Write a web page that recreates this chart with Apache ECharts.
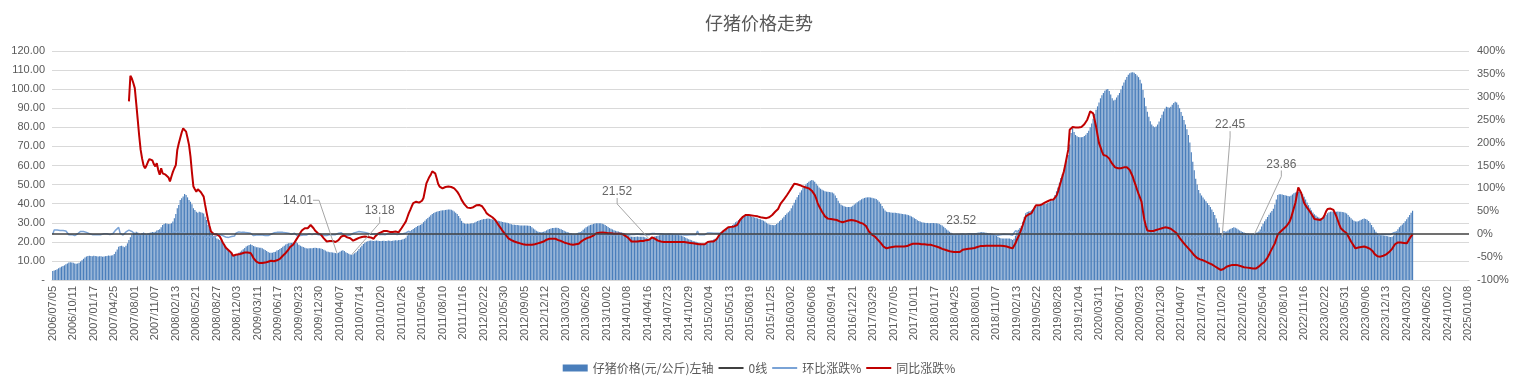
<!DOCTYPE html>
<html><head><meta charset="utf-8">
<script src="https://cdn.jsdelivr.net/npm/echarts/dist/echarts.min.js"></script>
<style>html,body{margin:0;padding:0;background:#fff}#c{width:1518px;height:390px}</style>
</head><body><div id="c"></div>
<script>
// ---------- DATA ----------
const firstWeek = '2006/07/05';
const lastWeek = '2025/01/08';

// 仔猪价格 (元/公斤), weekly from 2006/07/05
const p2006 = [4.7,5.0,5.2,5.6,6.1,6.5,7.0,7.3,7.7,8.2,8.7,9.2,9.3,9.2,9.1,8.7,8.5,8.6,9.0,9.7,10.4,11.1,11.8,12.3,12.6,12.7];
const p2007 = [12.6,12.5,12.7,12.6,12.4,12.3,12.5,12.4,12.2,12.3,12.5,12.6,12.8,12.7,12.9,13.0,13.6,14.8,16.0,17.4,17.8,17.9,17.6,17.2,18.0,19.2,21.0,22.4,23.8,24.5,24.8,25.3,24.9,24.4,24.1,24.6,24.9,24.3,24.0,24.4,24.7,24.9,25.1,25.0,25.3,25.9,26.2,26.6,27.6,28.8,29.4,29.7];
const p2008 = [29.5,29.3,29.4,29.7,30.6,32.3,34.6,37.6,39.3,41.9,42.8,43.7,45.1,44.5,43.3,41.9,41.0,39.7,37.6,36.7,35.8,35.3,35.8,35.5,35.3,34.9,33.2,31.4,28.8,27.1,25.7,24.5,23.1,22.4,21.8,21.3,21.0,20.4,19.7,18.9,17.8,16.6,15.4,14.3,13.6,13.1,12.6,12.9,13.6,14.3,14.8,15.4];
const p2009 = [16.1,16.8,17.5,18.0,18.3,18.7,18.3,17.8,17.5,17.1,17.1,16.9,16.9,16.6,16.1,15.7,15.2,14.7,14.3,14.3,14.3,14.7,14.8,15.4,15.7,16.3,16.8,17.4,18.0,18.6,19.0,19.3,19.4,19.4,19.5,19.8,20.0,19.3,18.5,18.0,17.6,17.3,16.9,16.6,16.5,16.6,16.7,16.6,16.8,16.9,16.8,16.7];
const p2010 = [16.6,16.5,16.2,15.8,15.5,15.0,14.8,14.6,14.5,14.4,14.3,14.1,14.01,14.3,14.8,15.3,15.6,15.2,14.6,14.1,13.7,13.4,13.18,13.5,14.0,14.6,15.3,16.2,17.1,18.0,18.8,19.5,20.0,20.3,20.6,20.7,20.6,20.5,20.6,20.7,20.6,20.4,20.4,20.5,20.6,20.4,20.5,20.7,20.6,20.5,20.6,20.7];
const p2011 = [20.8,20.7,20.9,21.0,21.1,21.3,21.6,22.2,23.3,24.8,25.6,26.2,26.7,27.2,27.8,28.3,28.6,28.9,29.4,30.3,31.0,31.8,32.5,33.2,33.9,34.6,35.1,35.5,35.8,36.0,36.2,36.4,36.5,36.6,36.7,36.8,36.9,37.0,36.8,36.4,35.9,35.3,34.6,33.6,32.3,31.0,30.0,29.6,29.4,29.5,29.4,29.6];
const p2012 = [29.7,29.8,30.1,30.5,30.9,31.2,31.5,31.7,31.9,32.0,32.1,32.2,32.1,31.9,31.7,31.5,31.3,31.2,31.0,30.8,30.6,30.4,30.3,30.1,30.0,29.8,29.5,29.2,29.0,28.9,28.8,28.8,28.7,28.6,28.6,28.5,28.5,28.6,28.5,28.4,28.3,27.6,27.0,26.4,25.8,25.4,25.2,25.0,25.1,25.3,25.6,26.0];
const p2013 = [26.4,26.7,27.0,27.2,27.3,27.4,27.4,27.3,26.9,26.6,26.2,25.8,25.4,25.1,24.9,24.6,24.4,24.2,24.0,23.9,24.2,24.7,25.1,25.6,26.3,27.0,27.6,28.1,28.6,28.9,29.1,29.4,29.6,29.7,29.8,29.8,29.7,29.5,29.2,28.8,28.3,27.8,27.2,26.8,26.5,26.1,25.8,25.6,25.4,25.2,25.0,24.8];
const p2014 = [24.6,24.2,23.8,23.3,22.8,22.7,22.7,22.6,22.7,22.8,22.7,22.6,22.7,22.6,22.4,22.1,21.8,21.52,21.9,22.3,22.6,22.9,23.0,23.2,23.5,23.7,23.9,24.0,24.1,24.1,24.0,24.1,24.0,24.0,23.9,23.8,23.7,23.6,23.5,23.3,22.9,22.5,22.1,21.7,21.4,21.1,20.8,20.5,20.2,20.0,19.7,19.5];
const p2015 = [19.2,19.0,18.9,18.7,18.8,19.3,19.8,20.3,20.8,21.2,21.6,22.0,22.5,23.0,23.6,24.3,25.0,25.8,26.6,27.2,27.7,28.2,28.8,29.5,30.2,30.8,31.4,31.9,32.4,32.9,33.3,33.6,33.8,33.7,33.5,33.2,33.0,32.8,32.6,32.3,32.0,31.8,31.5,31.1,30.6,30.0,29.5,29.1,28.9,28.8,28.7,28.8];
const p2016 = [29.3,30.0,30.8,31.5,32.3,33.2,34.0,34.8,35.5,36.3,37.6,39.0,40.5,42.0,43.4,44.6,45.8,47.0,48.2,49.2,50.1,50.8,51.5,52.0,52.4,52.2,51.5,50.5,49.5,48.5,47.8,47.3,46.9,46.5,46.3,46.2,46.1,46.0,45.8,45.3,44.3,43.0,41.5,40.2,39.4,39.0,38.6,38.4,38.3,38.2,38.2,38.4];
const p2017 = [38.9,39.5,40.1,40.7,41.3,41.8,42.3,42.7,43.0,43.2,43.3,43.3,43.2,43.1,42.9,42.7,42.4,41.8,41.0,40.0,38.8,37.5,36.4,35.8,35.6,35.5,35.4,35.3,35.3,35.2,35.1,35.0,34.9,34.7,34.6,34.5,34.4,34.2,34.0,33.7,33.3,32.9,32.4,31.9,31.3,30.9,30.6,30.3,30.1,30.0,29.9,29.9];
const p2018 = [29.8,29.8,29.9,29.9,29.8,29.7,29.6,29.4,29.0,28.5,27.9,27.2,26.5,25.9,25.3,24.8,24.3,24.0,23.8,23.7,23.6,23.55,23.52,23.6,23.6,23.55,23.6,23.8,24.0,24.2,24.4,24.5,24.6,24.8,24.9,25.0,25.1,25.0,24.9,24.8,24.6,24.5,24.4,24.2,24.0,23.6,23.1,22.6,22.2,21.9,21.8,21.8];
const p2019 = [21.8,21.7,21.8,21.7,21.5,21.0,21.6,23.2,25.0,26.3,27.2,28.3,30.5,33.0,35.0,35.6,35.9,36.2,36.5,37.2,37.8,38.3,38.7,39.1,39.3,39.5,39.7,39.8,40.0,40.3,40.8,41.3,41.8,42.3,44.5,46.5,48.5,51.0,53.5,55.5,57.5,60.0,62.5,65.5,71.0,77.0,79.5,77.5,76.0,75.3,74.9,74.8];
const p2020 = [74.8,75.0,75.4,76.1,77.0,78.2,80.0,82.0,84.5,87.0,89.2,91.0,93.0,95.2,96.8,98.0,99.2,99.8,100.1,99.0,97.2,95.3,94.0,94.5,95.6,96.8,98.0,99.8,101.8,103.5,105.0,106.4,107.5,108.3,108.7,108.9,108.6,108.0,107.2,106.3,105.0,103.0,99.6,95.5,91.0,88.2,85.5,83.2,81.5,80.6,80.1,80.4];
const p2021 = [81.5,83.0,84.8,86.6,88.3,89.8,90.8,90.5,90.3,90.8,91.8,92.7,93.4,93.0,91.8,90.0,88.0,86.0,83.8,81.5,79.0,76.0,72.0,67.0,62.0,57.5,53.0,50.0,47.2,45.5,44.3,43.2,42.2,41.3,40.3,39.3,38.2,37.0,35.6,34.0,32.2,30.0,27.5,24.5,22.45,23.8,24.8,25.4,25.9,26.4,26.9,27.3];
const p2022 = [27.6,27.4,27.0,26.5,26.0,25.6,25.2,24.9,24.6,24.4,24.3,24.1,24.0,23.9,23.86,24.3,24.8,25.4,26.5,28.0,29.5,30.8,31.8,33.0,34.2,35.3,36.2,37.4,39.5,42.2,44.5,45.0,45.0,44.8,44.6,44.4,44.2,44.0,43.8,44.2,44.8,45.4,45.9,46.2,46.3,46.2,45.9,45.0,43.6,42.2,40.6,39.2];
const p2023 = [37.8,36.5,35.4,34.5,33.8,33.2,32.7,32.4,32.3,32.6,33.3,34.2,35.0,35.5,35.8,35.9,35.9,35.8,35.8,35.9,35.8,35.7,35.6,35.5,35.2,34.8,34.0,33.2,32.4,31.6,31.0,30.7,30.6,30.8,31.2,31.6,32.0,32.2,32.0,31.6,30.9,30.0,28.8,27.6,26.4,25.3,24.4,23.8,23.5,23.4,23.3,23.2];
const p2024 = [23.1,22.9,22.7,22.5,22.6,23.3,24.4,25.5,26.6,27.6,28.4,29.1,29.9,30.8,31.8,32.9,34.0,35.2,36.3];

// 环比涨跌 (%), weekly from 2006/07/05
const w2006 = [0,9,8,9,8,8,7,8,7,7,6,-1,0,-1,-2,-3,-2,1,3,6,7,6,5,4,2,1];
const w2007 = [0,-1,2,-1,-2,-1,2,-1,-2,1,2,1,2,-1,2,1,5,9,8,15,2,1,-2,-2,5,7,9,7,6,3,1,2,-2,-2,-1,2,1,-2,-1,2,1,1,1,0,1,2,1,2,4,4,2,1];
const w2008 = [-1,-1,0,1,3,6,7,9,5,7,2,2,3,-1,-3,-3,-2,-3,-5,-2,-2,-1,1,-1,-1,-1,-5,-5,-8,-6,-5,-5,-6,-3,-3,-2,-1,-3,-3,-4,-6,-7,-7,-7,-5,-4,-4,2,5,5,4,4];
const w2009 = [5,4,4,3,2,2,-2,-3,-2,-2,0,-1,0,-2,-3,-3,-3,-3,-3,0,0,3,1,4,2,4,3,4,3,3,2,2,1,0,1,2,1,-4,-4,-3,-2,-2,-2,-2,-1,1,1,-1,1,1,-1,-1];
const w2010 = [-1,-1,-2,-3,-2,-3,-1,-1,-1,-1,-1,-1,-1,2,4,3,2,-3,-4,-3,-3,-2,-2,2,4,4,5,6,6,5,4,4,3,2,2,0,-1,0,1,1,-1,-1,0,0,1,-1,1,1,-1,0,0,1];
const w2011 = [0.5,-0.5,1,0.5,0.5,1,1.4,2.8,5,6.4,3.2,2.3,1.9,1.9,2.2,1.8,1.1,1,1.7,3.1,2.3,2.6,2.2,2.2,2.1,2.1,1.4,1.1,0.8,0.6,0.6,0.5,0.3,0.3,0.3,0.3,0.3,0.3,-0.5,-1.1,-1.4,-1.7,-2,-2.9,-3.9,-4,-3.2,-1.3,-0.7,0.3,-0.3,0.7];
const w2012 = [0.3,0.3,1,1.3,1.3,1,1,0.6,0.6,0.3,0.3,0.3,-0.3,-0.6,-0.6,-0.6,-0.6,-0.3,-0.6,-0.6,-0.7,-0.7,-0.3,-0.7,-0.3,-0.7,-1,-1,-0.7,-0.3,-0.3,0,-0.3,-0.3,0,-0.3,0,0.3,-0.3,-0.3,-0.3,-2.5,-2.2,-2.2,-2.3,-1.6,-0.8,-0.8,0.4,0.8,1.2,1.6];
const w2013 = [1.5,1.1,1.1,0.7,0.4,0.4,0,-0.4,-1.5,-1.1,-1.5,-1.5,-1.6,-1.2,-0.8,-1.2,-0.8,-0.8,-0.8,-0.4,1.3,2.1,1.6,2,2.7,2.7,2.2,1.8,1.8,1,0.7,1,0.7,0.3,0.3,0,-0.3,-0.7,-1,-1.4,-1.7,-1.8,-2.2,-1.5,-1.1,-1.5,-1.1,-0.8,-0.8,-0.8,-0.8,-0.8];
const w2014 = [-0.8,-1.6,-1.7,-2.1,-2.1,-0.4,0,-0.4,0.4,0.4,-0.4,-0.4,0.4,-0.4,-0.9,-1.3,-1.4,-1.3,1.8,1.8,1.3,1.3,0.4,0.9,1.3,0.9,0.8,0.4,0.4,0,-0.4,0.4,-0.4,0,-0.4,-0.4,-0.4,-0.4,-0.4,-0.9,-1.7,-1.7,-1.8,-1.8,-1.4,-1.4,-1.4,-1.4,-1.5,-1,7,-1];
const w2015 = [-1.5,-1,-0.5,-1,0.5,2.7,2.6,2.5,2.5,1.9,1.9,1.9,2.3,2.2,2.6,3,2.9,3.2,3.1,2.3,1.8,1.8,2.1,2.4,2.4,2,1.9,1.6,1.6,1.5,1.2,0.9,0.6,-0.3,-0.6,-0.9,-0.6,-0.6,-0.6,-0.9,-0.9,-0.6,-0.9,-1.3,-1.6,-2,-1.7,-1.4,-0.7,-0.3,-0.3,0.3];
const w2016 = [1.7,2.4,2.7,2.3,2.5,2.8,2.4,2.4,2,2.3,3.6,3.7,3.8,3.7,3.3,2.8,2.7,2.6,2.6,2.1,1.8,1.4,1.4,1,0.8,-0.4,-1.3,-1.9,-2,-2,-1.4,-1,-0.8,-0.9,-0.4,-0.2,-0.2,-0.2,-0.4,-1.1,-2.2,-2.9,-3.5,-3.1,-2,-1,-1,-0.5,-0.3,-0.3,0,0.5];
const w2017 = [1.3,1.5,1.5,1.5,1.5,1.2,1.2,0.9,0.7,0.5,0.2,0,-0.2,-0.2,-0.5,-0.5,-0.7,-1.4,-1.9,-2.4,-3,-3.4,-2.9,-1.6,-0.6,-0.3,-0.3,-0.3,0,-0.3,-0.3,-0.3,-0.3,-0.6,-0.3,-0.3,-0.3,-0.6,-0.6,-0.9,-1.2,-1.2,-1.5,-1.5,-1.9,-1.3,-1,-1,-0.7,-0.3,-0.3,0];
const w2018 = [-0.3,0,0.3,0,-0.3,-0.3,-0.3,-0.7,-1.4,-1.7,-2.1,-2.5,-2.6,-2.3,-2.3,-2,-2,-1.2,-0.8,-0.4,-0.4,-0.2,-0.1,0.3,0,-0.4,0.4,0.8,0.8,0.8,0.8,0.4,0.4,0.8,0.4,0.4,0.4,-0.4,-0.4,-0.4,-0.8,-0.4,-0.4,-0.8,-0.8,-1.7,-2.1,-2.2,-1.8,-1.4,-0.5,0];
const w2019 = [0,-0.5,0.5,-0.5,-0.9,-2.3,2.9,7.4,7.8,5.2,3.4,4,7.8,8.2,6.1,1.7,0.8,0.8,0.8,1.9,1.6,1.3,1,1,0.5,0.5,0.5,0.3,0.5,0.8,1.2,1.2,1.2,1.2,5.2,4.5,4.3,5.2,4.9,3.7,3.6,4.3,4.2,4.8,8.4,8.5,3.2,-2.5,-1.9,-0.9,-0.5,-0.1];
const w2020 = [0,0.3,0.5,0.9,1.2,1.6,2.3,2.5,3,3,2.5,2,2.2,2.4,1.7,1.2,1.2,0.6,0.3,-1.1,-1.8,-2,-1.4,0.5,1.2,1.3,1.2,1.8,2,1.7,1.4,1.3,1,0.7,0.4,0.2,-0.3,-0.6,-0.7,-0.8,-1.2,-1.9,-3.3,-4.1,-4.7,-3.1,-3.1,-2.7,-2,-1.1,-0.6,0.4];
const w2021 = [1.4,1.8,2.2,2.1,2,1.7,1.1,-0.3,-0.2,0.6,1.1,1,0.8,-0.4,-1.3,-2,-2.2,-2.3,-2.6,-2.7,-3.1,-3.8,-5.3,-6.9,-7.5,-7.3,-7.8,-5.7,-5.6,-3.6,-2.6,-2.5,-2.3,-2.1,-2.4,-2.5,-2.8,-3.1,-3.8,-4.5,-5.3,-6.8,-8.3,-10.9,-8.4,6,4.2,2.4,2,1.9,1.9,1.5];
const w2022 = [1.1,-0.7,-1.5,-1.9,-1.9,-1.5,-1.6,-1.2,-1.2,-0.8,-0.4,-0.8,-0.4,-0.4,-0.2,1.8,2.1,2.4,4.3,5.7,5.4,4.4,3.2,3.8,3.6,3.2,2.5,3.3,5.6,6.8,5.5,1.1,0,-0.4,-0.4,-0.4,-0.5,-0.5,-0.5,0.9,1.4,1.3,1.1,0.7,0.2,-0.2,-0.6,-2,-3.1,-3.2,-3.8,-3.4];
const w2023 = [-3.6,-3.4,-3,-2.5,-2,-1.8,-1.5,-0.9,-0.3,0.9,2.1,2.7,2.3,1.4,0.8,0.3,0,-0.3,0,0.3,-0.3,-0.3,-0.3,-0.3,-0.8,-1.1,-2.3,-2.4,-2.4,-2.5,-1.9,-1,-0.3,0.7,1.3,1.3,1.3,0.6,-0.6,-1.3,-2.2,-2.9,-4,-4.2,-4.3,-4.2,-3.6,-2.5,-1.3,-0.4,-0.4,-0.4];
const w2024 = [-0.4,-0.9,-0.9,-0.9,0.4,3.1,4.7,4.5,4.3,3.8,2.9,2.5,2.7,3,3.2,3.5,3.3,3.5,3.1];

// 同比涨跌 (%), weekly from 2007/07/04 (first year has no YoY)
const yoyStartIndex = 52;
const y2007 = [290,346,340,330,319,285,250,215,184,165,150,144,150,158,164,163,161,153,148,155,140,130,144,133,131,130];
const y2008 = [133,124,115,126,136,144,151,184,198,210,222,231,235,224,210,195,170,135,104,98,93,98,95,92,91,82,64,47,31,18,6,2,0,0,0,-2,-5,-11,-18,-23,-29,-33,-35,-36,-41,-47,-46,-45,-45,-44,-44,-42];
const y2009 = [-41,-40,-39,-40,-41,-41,-46,-52,-56,-60,-62,-63,-63,-63,-62,-62,-62,-60,-57,-58,-60,-59,-58,-57,-55,-54,-51,-47,-44,-41,-38,-33,-28,-25,-23,-18,-13,-9,-3,3,8,11,13,9,13,17,20,17,13,8,4,2];
const y2010 = [0,-1,-5,-9,-13,-16,-16,-15,-15,-15,-16,-17,-17,-13,-9,-5,-1,-3,-5,-7,-8,-9,-12,-14,-12,-11,-9,-8,-7,-6,-5,-5,-6,-6,-7,-7,-9,-10,-5,-1,1,2,4,6,7,8,7,6,5,4,5,6];
const y2011 = [6,5,4,8,13,18,23,28,37,46,53,61,68,70,71,70,69,68,73,79,95,111,118,125,130,137,135,133,122,110,104,101,100,102,103,104,104,103,103,103,100,97,93,88,82,75,70,65,61,58,57,57];
const y2012 = [57,59,61,63,64,64,64,61,57,52,46,43,41,39,37,35,31,26,21,17,12,7,3,-1,-5,-9,-12,-13,-15,-16,-17,-18,-19,-20,-21,-22,-22,-23,-23,-23,-23,-23,-22,-22,-21,-20,-19,-18,-17,-16,-14,-12];
const y2013 = [-11,-10,-10,-10,-10,-10,-11,-13,-14,-15,-17,-18,-19,-20,-21,-22,-23,-23,-23,-22,-21,-21,-18,-15,-13,-11,-10,-8,-7,-6,-5,-3,-1,2,3,3,4,4,4,3,3,2,2,2,2,1,1,1,1,1,0,0];
const y2014 = [-1,-4,-7,-9,-13,-16,-16,-16,-16,-16,-15,-15,-15,-15,-14,-13,-13,-12,-9,-7,-7,-10,-12,-14,-15,-16,-17,-17,-17,-17,-17,-17,-17,-17,-17,-17,-17,-17,-17,-17,-17,-17,-17,-18,-18,-19,-19,-20,-21,-21,-22,-22];
const y2015 = [-22,-22,-22,-22,-20,-17,-17,-16,-16,-16,-13,-11,-6,-1,3,5,6,10,13,15,17,16,15,17,18,20,25,31,35,38,41,42,42,42,42,41,41,40,40,39,38,37,36,36,36,35,36,37,39,42,46,49];
const y2016 = [49,55,62,68,72,76,79,85,90,95,100,105,110,110,109,108,107,106,104,103,102,101,100,99,95,91,86,78,68,61,55,49,44,39,36,34,33,33,32,32,31,31,30,28,27,26,27,28,29,30,30,31];
const y2017 = [30,30,29,28,27,25,24,23,22,18,12,6,2,-1,-3,-5,-8,-12,-15,-19,-23,-27,-30,-31,-30,-29,-28,-28,-27,-27,-27,-27,-27,-27,-27,-27,-27,-26,-25,-23,-22,-21,-21,-21,-21,-21,-22,-22,-22,-22,-22,-23];
const y2018 = [-23,-23,-24,-25,-26,-27,-28,-29,-30,-32,-33,-34,-35,-36,-37,-38,-39,-39,-39,-39,-39,-39,-36,-34,-33,-33,-33,-32,-32,-31,-31,-30,-29,-28,-27,-26,-26,-26,-25,-25,-25,-25,-25,-25,-25,-25,-25,-25,-25,-25,-25,-26];
const y2019 = [-26,-27,-28,-29,-30,-31,-27,-20,-12,-5,2,11,20,30,39,41,43,45,46,52,58,63,63,63,63,65,67,69,71,72,74,75,75,76,76,84,93,104,115,126,137,152,168,184,228,232,234,234,233,233,233,234];
const y2020 = [234,235,240,245,250,259,268,267,264,250,235,217,199,190,181,173,172,171,170,165,159,154,150,146,145,144,143,144,145,146,146,146,146,140,133,126,116,107,97,88,80,71,50,31,18,8,7,7,6,7,8,9];
const y2021 = [10,11,12,13,14,15,15,14,13,12,10,7,4,2,-3,-8,-12,-16,-20,-24,-27,-31,-35,-38,-42,-46,-49,-52,-54,-55,-56,-57,-59,-60,-62,-63,-64,-66,-68,-70,-72,-74,-76,-78,-77,-76,-73,-71,-70,-69,-68,-67];
const y2022 = [-67,-67,-67,-68,-69,-70,-71,-72,-73,-73,-74,-74,-74,-75,-75,-75,-73,-71,-68,-65,-62,-60,-56,-51,-45,-38,-32,-26,-20,-10,-1,3,6,9,12,15,18,20,27,35,46,57,68,85,102,96,90,79,68,63,58,54];
const y2023 = [49,44,39,33,32,32,31,31,31,36,42,50,55,58,56,55,53,46,39,30,21,13,10,7,4,2,-4,-10,-16,-21,-26,-31,-30,-29,-28,-28,-27,-27,-27,-29,-30,-32,-34,-38,-43,-47,-48,-49,-49,-48,-47,-46];
const y2024 = [-44,-42,-39,-36,-32,-27,-22,-18,-18,-18,-18,-19,-19,-20,-20,-15,-9,-5,0];

// annotated price points
const annoIndex = [194, 204, 407, 620, 798, 820];
const annoValue = [14.01, 13.18, 21.52, 23.52, 22.45, 23.86];

// axis ticks
const leftTicks = {min: 0, max: 120, step: 10};
const rightTicks = {min: -100, max: 400, step: 50};

// ---------- BUILD ----------
const categories = [];
(function () {
  const a = firstWeek.split('/').map(Number), b = lastWeek.split('/').map(Number);
  let t = Date.UTC(a[0], a[1] - 1, a[2]);
  const end = Date.UTC(b[0], b[1] - 1, b[2]);
  const pad = n => String(n).padStart(2, '0');
  while (t <= end) {
    const d = new Date(t);
    categories.push(d.getUTCFullYear() + '/' + pad(d.getUTCMonth() + 1) + '/' + pad(d.getUTCDate()));
    t += 7 * 86400000;
  }
})();

const price = [].concat(p2006,p2007,p2008,p2009,p2010,p2011,p2012,p2013,p2014,p2015,p2016,p2017,p2018,p2019,p2020,p2021,p2022,p2023,p2024);
const wow = [].concat(w2006,w2007,w2008,w2009,w2010,w2011,w2012,w2013,w2014,w2015,w2016,w2017,w2018,w2019,w2020,w2021,w2022,w2023,w2024);
const yoyVals = [].concat(y2007,y2008,y2009,y2010,y2011,y2012,y2013,y2014,y2015,y2016,y2017,y2018,y2019,y2020,y2021,y2022,y2023,y2024);
const yoy = yoyVals.map((v, k) => [yoyStartIndex + k, v]);

// label offsets (layout only)
const annoOffset = [[-39, -53], [28, -44], [-32, -47], [0, -14], [8, -112], [27, -70]];

const FONT = '"Liberation Sans", "Noto Sans CJK SC", sans-serif';
const CJK = '"Noto Sans CJK SC", "Liberation Sans", sans-serif';
const grey = '#595959';
const hideSym = {opacity: 0};

const chart = echarts.init(document.getElementById('c'), null, {renderer: 'canvas'});
chart.setOption({
  animation: false,
  backgroundColor: '#fff',
  title: {text: '仔猪价格走势', left: 'center', top: 9,
    textStyle: {fontSize: 18, fontWeight: 'normal', color: grey, fontFamily: CJK}},
  legend: {
    bottom: 11, left: 'center', itemGap: 4, itemWidth: 25, itemHeight: 7,
    textStyle: {fontSize: 12, color: grey, fontFamily: CJK},
    data: [
      {name: '仔猪价格(元/公斤)左轴', icon: 'rect'},
      {name: '0线', itemStyle: hideSym},
      {name: '环比涨跌%', itemStyle: hideSym},
      {name: '同比涨跌%', itemStyle: hideSym}
    ]
  },
  grid: {left: 52, right: 49, top: 51, bottom: 110},
  xAxis: {
    type: 'category', data: categories, boundaryGap: true,
    axisLine: {lineStyle: {color: '#d9d9d9'}},
    axisTick: {show: false},
    axisLabel: {interval: 13, rotate: 90, fontSize: 11, color: grey, fontFamily: FONT, margin: 6}
  },
  yAxis: [
    {type: 'value', min: leftTicks.min, max: leftTicks.max, interval: leftTicks.step,
     axisLine: {show: false}, axisTick: {show: false},
     splitLine: {lineStyle: {color: '#d9d9d9', width: 1}},
     axisLabel: {fontSize: 11, color: grey, fontFamily: FONT, margin: 7,
       formatter: v => v === 0 ? '-' : v.toFixed(2)}},
    {type: 'value', min: rightTicks.min, max: rightTicks.max, interval: rightTicks.step,
     position: 'right', axisLine: {show: false}, axisTick: {show: false}, splitLine: {show: false},
     axisLabel: {fontSize: 11, color: grey, fontFamily: FONT, margin: 8, formatter: '{value}%'}}
  ],
  series: [
    {name: '仔猪价格(元/公斤)左轴', type: 'bar', yAxisIndex: 0, data: price,
     barCategoryGap: '22%', itemStyle: {color: '#4A7EBB'}, z: 1},
    {name: '0线', type: 'line', yAxisIndex: 1, data: [], symbol: 'none',
     itemStyle: {color: '#404040'}, lineStyle: {color: '#404040', width: 1.5},
     markLine: {silent: true, symbol: 'none', label: {show: false},
       lineStyle: {color: '#404040', width: 1.5, type: 'solid'}, data: [{yAxis: 0}]}, z: 2},
    {name: '环比涨跌%', type: 'line', yAxisIndex: 1, data: wow, symbol: 'none',
     itemStyle: {color: '#7AA3D6'}, lineStyle: {color: '#7AA3D6', width: 1.5}, z: 3},
    {name: '同比涨跌%', type: 'line', yAxisIndex: 1, data: yoy, symbol: 'none',
     itemStyle: {color: '#C00000'}, lineStyle: {color: '#C00000', width: 2}, z: 4},
    {name: 'anno', type: 'scatter', yAxisIndex: 0, symbolSize: 1,
     itemStyle: {color: 'rgba(0,0,0,0)'},
     data: annoIndex.map((ix, k) => ({value: [ix, annoValue[k]],
        labelLine: {show: k !== 3}})),
     label: {show: true, position: 'inside', fontSize: 12, color: '#404040', fontFamily: FONT,
       formatter: p => p.value[1].toFixed(2)},
     labelLine: {show: true, length2: 6, lineStyle: {color: '#a6a6a6', width: 1}},
     labelLayout: p => ({dx: annoOffset[p.dataIndex][0], dy: annoOffset[p.dataIndex][1]}),
     z: 5}
  ]
});
</script></body></html>
